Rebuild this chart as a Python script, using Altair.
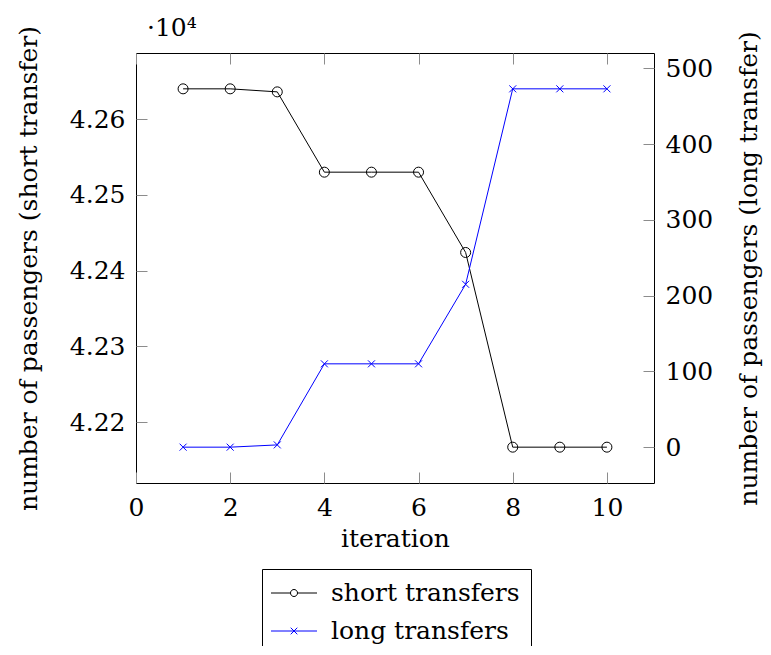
import math
import altair as alt
import pandas as pd

# ---- data ----
iterations = [1, 2, 3, 4, 5, 6, 7, 8, 9, 10]
short_transfers = [42640, 42640, 42636, 42530, 42530, 42530, 42424, 42167, 42167, 42167]
long_transfers = [0, 0, 3, 110, 110, 110, 215, 473, 473, 473]
series_names = ["short transfers", "long transfers"]
x_ticks = [0, 2, 4, 6, 8, 10]
left_ticks = [42200, 42300, 42400, 42500, 42600]
right_ticks = [0, 100, 200, 300, 400, 500]
multiplier_label = ["·10⁴"]

FONT = "DejaVu Serif"
FS = 25
BLUE = "#0000ff"
TICK = "#8c8c8c"

df_short = pd.DataFrame({"iteration": iterations, "value": short_transfers, "series": series_names[0]})
df_long = pd.DataFrame({"iteration": iterations, "value": long_transfers, "series": series_names[1]})
df_all = pd.concat([df_short, df_long])

x_scale = alt.Scale(domain=[0, 11], nice=False, zero=False)


def enlarge(vals, f=0.1):
    lo, hi = min(vals), max(vals)
    d = (hi - lo) * f
    return [lo - d, hi + d]


axis_common = dict(
    offset=-11, tickSize=11, tickColor=TICK, tickWidth=1, domain=False, grid=False,
    labelFlush=False, labelOverlap=False,
    labelFont=FONT, labelFontSize=FS, labelColor="black",
    titleFont=FONT, titleFontSize=FS, titleColor="black", titleFontWeight="normal",
)

short_chart = alt.Chart(df_short).mark_line(
    color="black", strokeWidth=1,
    point=alt.OverlayMarkDef(shape="circle", filled=False, size=100, color="black", strokeWidth=1),
).encode(
    x=alt.X("iteration:Q", scale=x_scale,
            axis=alt.Axis(orient="bottom", values=x_ticks, labelPadding=12, title="iteration",
                          titlePadding=6, **axis_common)),
    y=alt.Y("value:Q", scale=alt.Scale(domain=enlarge(short_transfers), nice=False, zero=False),
            axis=alt.Axis(orient="left", values=left_ticks, labelPadding=11,
                          labelExpr="format(datum.value / 10000, '.2f')",
                          title="number of passengers (short transfer)", titlePadding=28,
                          **axis_common)),
)

cross_path = "M-1,-1L1,1M-1,1L1,-1"
long_chart = alt.Chart(df_long).mark_line(
    color=BLUE, strokeWidth=1,
    point=alt.OverlayMarkDef(shape=cross_path, filled=False, size=49, color=BLUE, strokeWidth=1),
).encode(
    x=alt.X("iteration:Q", scale=x_scale,
            axis=alt.Axis(orient="top", values=x_ticks, labels=False, title=None, **axis_common)),
    y=alt.Y("value:Q", scale=alt.Scale(domain=enlarge(long_transfers), nice=False, zero=False),
            axis=alt.Axis(orient="right", values=right_ticks, labelPadding=11,
                          title="number of passengers (long transfer)", titleAngle=270,
                          titleBaseline="top", titlePadding=24, **axis_common)),
)

# legend symbols: a line segment with the marker drawn on it
u = 12.5  # px per path unit for symbol size 625
L = 23 / u
r = 3.5 / u
circ = "M%.3f,0" % r + "".join(
    "L%.3f,%.3f" % (r * math.cos(2 * math.pi * k / 20), r * math.sin(2 * math.pi * k / 20)) for k in range(1, 21)
) + "Z"
legend_short = "M%.3f,0H%.3f M%.3f,0H%.3f " % (-L, -r, r, L) + circ
c = 3.3 / u
legend_long = "M%.3f,0H%.3f M%.3f,%.3fL%.3f,%.3f M%.3f,%.3fL%.3f,%.3f" % (-L, L, -c, -c, c, c, -c, c, c, -c)

leg = alt.Legend(
    orient="none", legendX=126, legendY=516, title=None, direction="vertical",
    symbolSize=625, symbolStrokeWidth=1, symbolOpacity=1, symbolOffset=8, labelOffset=24,
    labelFont=FONT, labelFontSize=FS, labelColor="black", labelLimit=400, rowPadding=12,
    strokeColor="black", padding=11, cornerRadius=0, fillColor="white",
)

legend_chart = alt.Chart(df_all).mark_point(opacity=0, filled=False).encode(
    color=alt.Color("series:N", scale=alt.Scale(domain=series_names, range=["black", BLUE]), legend=leg),
    shape=alt.Shape("series:N", scale=alt.Scale(domain=series_names, range=[legend_short, legend_long]), legend=leg),
)

mult_chart = alt.Chart(pd.DataFrame({"t": multiplier_label})).mark_text(
    font=FONT, fontSize=FS, color="black", align="left", baseline="alphabetic",
).encode(x=alt.value(11), y=alt.value(-17), text="t:N")

chart = alt.layer(short_chart, long_chart, legend_chart, mult_chart).resolve_scale(
    y="independent"
).resolve_axis(
    x="independent", y="independent"
).properties(
    width=518, height=430,
    autosize=alt.AutoSizeParams(type="none"),
    padding={"left": 128, "top": 45, "right": 109, "bottom": 163},
).configure_view(stroke="black", strokeWidth=1)

chart.save("out.html", embed_options={"renderer": "svg", "actions": False})
